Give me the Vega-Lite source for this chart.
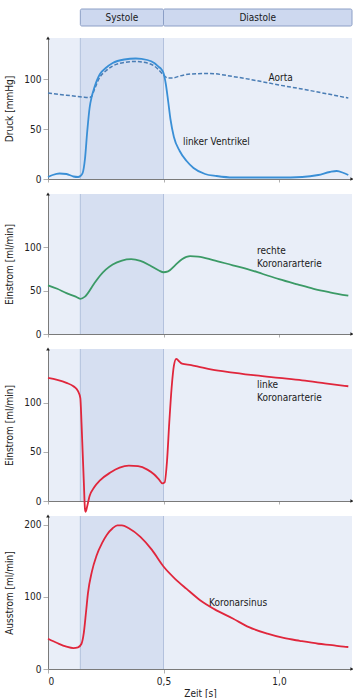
{
  "$schema": "https://vega.github.io/schema/vega-lite/v6.json",
  "padding": {"left": 4, "top": 8, "right": 0, "bottom": 0},
  "spacing": 12,
  "bounds": "flush",
  "config": {
    "font": "Liberation Sans Narrow, DejaVu Sans Condensed, Roboto Condensed, Roboto, sans-serif",
    "view": {"stroke": null, "fill": "#e9eef8"},
    "axis": {"grid": false, "domainColor": "#7a7a7a", "tickColor": "#b0b0b0", "labelColor": "#222", "titleColor": "#222", "labelFontSize": 10, "titleFontSize": 10, "titleFontWeight": "normal"},
    "axisY": {"tickSize": 5, "labelPadding": 2, "titlePadding": 9},
    "line": {"interpolate": "monotone"},
    "text": {"fontSize": 10, "color": "#1a1a1a", "align": "left", "baseline": "middle"}
  },
  "datasets": {
    "band": [{"s": 0.14, "e": 0.5}],
    "edges": [{"t": 0.14}, {"t": 0.5}],
    "phases": [{"phase": "Systole", "s": 0.14, "e": 0.5, "mid": 0.32}, {"phase": "Diastole", "s": 0.5, "e": 1.316, "mid": 0.908}],
    "lv": [
      {"t": 0.0, "v": 2}, {"t": 0.02, "v": 4}, {"t": 0.05, "v": 5.5}, {"t": 0.08, "v": 5}, {"t": 0.11, "v": 2.5}, {"t": 0.13, "v": 2},
      {"t": 0.14, "v": 3}, {"t": 0.15, "v": 6}, {"t": 0.16, "v": 20}, {"t": 0.17, "v": 48}, {"t": 0.18, "v": 71}, {"t": 0.19, "v": 83},
      {"t": 0.2, "v": 91}, {"t": 0.225, "v": 105}, {"t": 0.25, "v": 111}, {"t": 0.28, "v": 116}, {"t": 0.33, "v": 119.5}, {"t": 0.38, "v": 120.5},
      {"t": 0.43, "v": 119}, {"t": 0.46, "v": 116}, {"t": 0.48, "v": 112}, {"t": 0.49, "v": 110}, {"t": 0.5, "v": 106}, {"t": 0.51, "v": 95},
      {"t": 0.52, "v": 78}, {"t": 0.53, "v": 60}, {"t": 0.545, "v": 42}, {"t": 0.57, "v": 28}, {"t": 0.6, "v": 18}, {"t": 0.63, "v": 11},
      {"t": 0.68, "v": 5}, {"t": 0.73, "v": 3}, {"t": 0.8, "v": 1.5}, {"t": 0.9, "v": 1.5}, {"t": 1.0, "v": 1.5}, {"t": 1.1, "v": 2},
      {"t": 1.17, "v": 4}, {"t": 1.22, "v": 7}, {"t": 1.25, "v": 8}, {"t": 1.28, "v": 6}, {"t": 1.3, "v": 4}
    ],
    "aorta": [
      {"t": 0.0, "v": 86}, {"t": 0.05, "v": 84.5}, {"t": 0.1, "v": 83.3}, {"t": 0.15, "v": 82}, {"t": 0.18, "v": 81.5}, {"t": 0.19, "v": 83},
      {"t": 0.2, "v": 89}, {"t": 0.225, "v": 102}, {"t": 0.25, "v": 108}, {"t": 0.28, "v": 113}, {"t": 0.33, "v": 116.5}, {"t": 0.38, "v": 117.5},
      {"t": 0.43, "v": 116}, {"t": 0.46, "v": 113}, {"t": 0.48, "v": 109}, {"t": 0.5, "v": 104}, {"t": 0.52, "v": 101}, {"t": 0.54, "v": 101},
      {"t": 0.57, "v": 103}, {"t": 0.62, "v": 105}, {"t": 0.7, "v": 105.5}, {"t": 0.8, "v": 102.5}, {"t": 0.9, "v": 98.5}, {"t": 1.0, "v": 94},
      {"t": 1.1, "v": 90}, {"t": 1.2, "v": 85.5}, {"t": 1.3, "v": 81}
    ],
    "rca": [
      {"t": 0.0, "v": 56}, {"t": 0.04, "v": 52}, {"t": 0.08, "v": 47}, {"t": 0.12, "v": 43}, {"t": 0.14, "v": 40.5}, {"t": 0.16, "v": 43},
      {"t": 0.2, "v": 58}, {"t": 0.225, "v": 67}, {"t": 0.25, "v": 74}, {"t": 0.28, "v": 80}, {"t": 0.32, "v": 84.5}, {"t": 0.36, "v": 86},
      {"t": 0.4, "v": 84}, {"t": 0.44, "v": 79}, {"t": 0.48, "v": 73}, {"t": 0.5, "v": 71}, {"t": 0.52, "v": 72}, {"t": 0.55, "v": 79},
      {"t": 0.58, "v": 86}, {"t": 0.615, "v": 89.5}, {"t": 0.65, "v": 89}, {"t": 0.715, "v": 85}, {"t": 0.8, "v": 79}, {"t": 0.86, "v": 75},
      {"t": 0.93, "v": 69}, {"t": 1.0, "v": 63}, {"t": 1.08, "v": 57}, {"t": 1.15, "v": 52}, {"t": 1.22, "v": 48}, {"t": 1.3, "v": 44}
    ],
    "lca": [
      {"t": 0.0, "v": 125.5}, {"t": 0.04, "v": 123.5}, {"t": 0.08, "v": 120.5}, {"t": 0.11, "v": 117}, {"t": 0.13, "v": 112}, {"t": 0.14, "v": 105},
      {"t": 0.145, "v": 80}, {"t": 0.15, "v": 50}, {"t": 0.155, "v": 20}, {"t": 0.16, "v": -8}, {"t": 0.163, "v": -11}, {"t": 0.17, "v": -5},
      {"t": 0.18, "v": 5}, {"t": 0.2, "v": 14}, {"t": 0.225, "v": 21}, {"t": 0.27, "v": 29}, {"t": 0.31, "v": 34}, {"t": 0.35, "v": 36},
      {"t": 0.39, "v": 35.5}, {"t": 0.43, "v": 32}, {"t": 0.46, "v": 27}, {"t": 0.48, "v": 22}, {"t": 0.495, "v": 18}, {"t": 0.505, "v": 19},
      {"t": 0.515, "v": 40}, {"t": 0.525, "v": 80}, {"t": 0.535, "v": 115}, {"t": 0.545, "v": 138}, {"t": 0.555, "v": 145}, {"t": 0.565, "v": 143},
      {"t": 0.58, "v": 140}, {"t": 0.62, "v": 138.5}, {"t": 0.65, "v": 137}, {"t": 0.71, "v": 134}, {"t": 0.8, "v": 131}, {"t": 0.9, "v": 128},
      {"t": 1.0, "v": 125.5}, {"t": 1.1, "v": 123}, {"t": 1.2, "v": 120}, {"t": 1.3, "v": 117}
    ],
    "cs": [
      {"t": 0.0, "v": 42}, {"t": 0.04, "v": 36}, {"t": 0.08, "v": 31}, {"t": 0.11, "v": 29}, {"t": 0.13, "v": 30}, {"t": 0.145, "v": 35},
      {"t": 0.155, "v": 50}, {"t": 0.165, "v": 80}, {"t": 0.173, "v": 105}, {"t": 0.19, "v": 135}, {"t": 0.21, "v": 157}, {"t": 0.235, "v": 175},
      {"t": 0.255, "v": 186}, {"t": 0.28, "v": 195}, {"t": 0.3, "v": 199}, {"t": 0.32, "v": 199}, {"t": 0.35, "v": 195}, {"t": 0.4, "v": 183},
      {"t": 0.45, "v": 165}, {"t": 0.5, "v": 142}, {"t": 0.55, "v": 125}, {"t": 0.6, "v": 111}, {"t": 0.66, "v": 95}, {"t": 0.72, "v": 83},
      {"t": 0.8, "v": 70}, {"t": 0.87, "v": 58}, {"t": 0.95, "v": 49}, {"t": 1.02, "v": 43}, {"t": 1.09, "v": 39}, {"t": 1.17, "v": 35},
      {"t": 1.23, "v": 33}, {"t": 1.28, "v": 31}, {"t": 1.3, "v": 30.5}
    ],
    "lab1": [{"t": 0.955, "v": 101, "txt": "Aorta"}, {"t": 0.584, "v": 37, "txt": "linker Ventrikel"}],
    "lab2": [{"t": 0.905, "v": 95, "txt": "rechte"}, {"t": 0.905, "v": 80, "txt": "Koronararterie"}],
    "lab3": [{"t": 0.905, "v": 118, "txt": "linke"}, {"t": 0.905, "v": 105, "txt": "Koronararterie"}],
    "lab4": [{"t": 0.697, "v": 92, "txt": "Koronarsinus"}],
    "ar1": [{"t": 0, "v": 141}], "ax1": [{"t": 1.316, "v": 0}],
    "ar2": [{"t": 0, "v": 161}], "ax2": [{"t": 1.316, "v": 0}],
    "ar3": [{"t": 0, "v": 155}], "ax3": [{"t": 1.316, "v": 0}],
    "ar4": [{"t": 0, "v": 212}], "ax4": [{"t": 1.316, "v": 0}]
  },
  "vconcat": [
    {
      "width": 304, "height": 17,
      "view": {"fill": null, "stroke": null},
      "data": {"name": "phases"},
      "layer": [
        {"mark": {"type": "rect", "fill": "#cdd8ef", "stroke": "#8c9fc6", "strokeWidth": 1, "cornerRadius": 1.5},
         "encoding": {"x": {"field": "s", "type": "quantitative", "scale": {"domain": [0, 1.316], "nice": false, "zero": false}, "axis": null}, "x2": {"field": "e"}}},
        {"mark": {"type": "text", "align": "center", "fontSize": 10},
         "encoding": {"x": {"field": "mid", "type": "quantitative"}, "text": {"field": "phase"}}}
      ]
    },
    {
      "spacing": 15,
      "bounds": "flush",
      "vconcat": [
        {
          "width": 304, "height": 141,
          "layer": [
            {"data": {"name": "band"}, "mark": {"type": "rect", "fill": "#d6dff1"},
             "encoding": {"x": {"field": "s", "type": "quantitative", "scale": {"domain": [0, 1.316], "nice": false, "zero": false}, "axis": {"labels": false, "title": null, "values": [0, 0.5, 1], "tickSize": 3}}, "x2": {"field": "e"}}},
            {"data": {"name": "edges"}, "mark": {"type": "rule", "color": "#b3c1dd", "strokeWidth": 1}, "encoding": {"x": {"field": "t", "type": "quantitative"}}},
            {"data": {"name": "aorta"}, "mark": {"type": "line", "color": "#4a7db5", "strokeWidth": 1.5, "strokeDash": [4, 2]},
             "encoding": {"x": {"field": "t", "type": "quantitative"}, "y": {"field": "v", "type": "quantitative", "scale": {"domain": [0, 141], "nice": false}, "axis": {"values": [0, 50, 100], "title": "Druck [mmHg]"}}}},
            {"data": {"name": "lv"}, "mark": {"type": "line", "color": "#3a8fd6", "strokeWidth": 1.8},
             "encoding": {"x": {"field": "t", "type": "quantitative"}, "y": {"field": "v", "type": "quantitative"}}},
            {"data": {"name": "lab1"}, "mark": {"type": "text"},
             "encoding": {"x": {"field": "t", "type": "quantitative"}, "y": {"field": "v", "type": "quantitative"}, "text": {"field": "txt"}}},
            {"data": {"name": "ar1"}, "mark": {"type": "point", "shape": "triangle-up", "filled": true, "size": 14, "color": "#222", "opacity": 1},
             "encoding": {"x": {"field": "t", "type": "quantitative"}, "y": {"field": "v", "type": "quantitative"}}},
            {"data": {"name": "ax1"}, "mark": {"type": "point", "shape": "triangle-right", "filled": true, "size": 14, "color": "#222", "opacity": 1},
             "encoding": {"x": {"field": "t", "type": "quantitative"}, "y": {"field": "v", "type": "quantitative"}}}
          ]
        },
        {
          "width": 304, "height": 140,
          "layer": [
            {"data": {"name": "band"}, "mark": {"type": "rect", "fill": "#d6dff1"},
             "encoding": {"x": {"field": "s", "type": "quantitative", "scale": {"domain": [0, 1.316], "nice": false, "zero": false}, "axis": {"labels": false, "title": null, "values": [0, 0.5, 1], "tickSize": 3}}, "x2": {"field": "e"}}},
            {"data": {"name": "edges"}, "mark": {"type": "rule", "color": "#b3c1dd", "strokeWidth": 1}, "encoding": {"x": {"field": "t", "type": "quantitative"}}},
            {"data": {"name": "rca"}, "mark": {"type": "line", "color": "#3b9a66", "strokeWidth": 1.8},
             "encoding": {"x": {"field": "t", "type": "quantitative"}, "y": {"field": "v", "type": "quantitative", "scale": {"domain": [0, 161], "nice": false}, "axis": {"values": [0, 50, 100], "title": "Einstrom [ml/min]"}}}},
            {"data": {"name": "lab2"}, "mark": {"type": "text"},
             "encoding": {"x": {"field": "t", "type": "quantitative"}, "y": {"field": "v", "type": "quantitative"}, "text": {"field": "txt"}}},
            {"data": {"name": "ar2"}, "mark": {"type": "point", "shape": "triangle-up", "filled": true, "size": 14, "color": "#222", "opacity": 1},
             "encoding": {"x": {"field": "t", "type": "quantitative"}, "y": {"field": "v", "type": "quantitative"}}},
            {"data": {"name": "ax2"}, "mark": {"type": "point", "shape": "triangle-right", "filled": true, "size": 14, "color": "#222", "opacity": 1},
             "encoding": {"x": {"field": "t", "type": "quantitative"}, "y": {"field": "v", "type": "quantitative"}}}
          ]
        },
        {
          "width": 304, "height": 152,
          "layer": [
            {"data": {"name": "band"}, "mark": {"type": "rect", "fill": "#d6dff1"},
             "encoding": {"x": {"field": "s", "type": "quantitative", "scale": {"domain": [0, 1.316], "nice": false, "zero": false}, "axis": {"labels": false, "title": null, "values": [0, 0.5, 1], "tickSize": 3}}, "x2": {"field": "e"}}},
            {"data": {"name": "edges"}, "mark": {"type": "rule", "color": "#b3c1dd", "strokeWidth": 1}, "encoding": {"x": {"field": "t", "type": "quantitative"}}},
            {"data": {"name": "lca"}, "mark": {"type": "line", "color": "#e0263c", "strokeWidth": 1.8},
             "encoding": {"x": {"field": "t", "type": "quantitative"}, "y": {"field": "v", "type": "quantitative", "scale": {"domain": [0, 155], "nice": false}, "axis": {"values": [0, 50, 100], "title": "Einstrom [ml/min]"}}}},
            {"data": {"name": "lab3"}, "mark": {"type": "text"},
             "encoding": {"x": {"field": "t", "type": "quantitative"}, "y": {"field": "v", "type": "quantitative"}, "text": {"field": "txt"}}},
            {"data": {"name": "ar3"}, "mark": {"type": "point", "shape": "triangle-up", "filled": true, "size": 14, "color": "#222", "opacity": 1},
             "encoding": {"x": {"field": "t", "type": "quantitative"}, "y": {"field": "v", "type": "quantitative"}}},
            {"data": {"name": "ax3"}, "mark": {"type": "point", "shape": "triangle-right", "filled": true, "size": 14, "color": "#222", "opacity": 1},
             "encoding": {"x": {"field": "t", "type": "quantitative"}, "y": {"field": "v", "type": "quantitative"}}}
          ]
        },
        {
          "width": 304, "height": 153,
          "layer": [
            {"data": {"name": "band"}, "mark": {"type": "rect", "fill": "#d6dff1"},
             "encoding": {"x": {"field": "s", "type": "quantitative", "scale": {"domain": [0, 1.316], "nice": false, "zero": false}, "axis": {"title": "Zeit [s]", "values": [0, 0.5, 1], "tickSize": 4, "labelPadding": 3, "titlePadding": 2, "labelExpr": "datum.value === 0 ? '0' : replace(format(datum.value, '.1f'), '.', ',')"}}, "x2": {"field": "e"}}},
            {"data": {"name": "edges"}, "mark": {"type": "rule", "color": "#b3c1dd", "strokeWidth": 1}, "encoding": {"x": {"field": "t", "type": "quantitative"}}},
            {"data": {"name": "cs"}, "mark": {"type": "line", "color": "#e0263c", "strokeWidth": 1.8},
             "encoding": {"x": {"field": "t", "type": "quantitative"}, "y": {"field": "v", "type": "quantitative", "scale": {"domain": [0, 212], "nice": false}, "axis": {"values": [0, 100, 200], "title": "Ausstrom [ml/min]"}}}},
            {"data": {"name": "lab4"}, "mark": {"type": "text"},
             "encoding": {"x": {"field": "t", "type": "quantitative"}, "y": {"field": "v", "type": "quantitative"}, "text": {"field": "txt"}}},
            {"data": {"name": "ar4"}, "mark": {"type": "point", "shape": "triangle-up", "filled": true, "size": 14, "color": "#222", "opacity": 1},
             "encoding": {"x": {"field": "t", "type": "quantitative"}, "y": {"field": "v", "type": "quantitative"}}},
            {"data": {"name": "ax4"}, "mark": {"type": "point", "shape": "triangle-right", "filled": true, "size": 14, "color": "#222", "opacity": 1},
             "encoding": {"x": {"field": "t", "type": "quantitative"}, "y": {"field": "v", "type": "quantitative"}}}
          ]
        }
      ]
    }
  ]
}
